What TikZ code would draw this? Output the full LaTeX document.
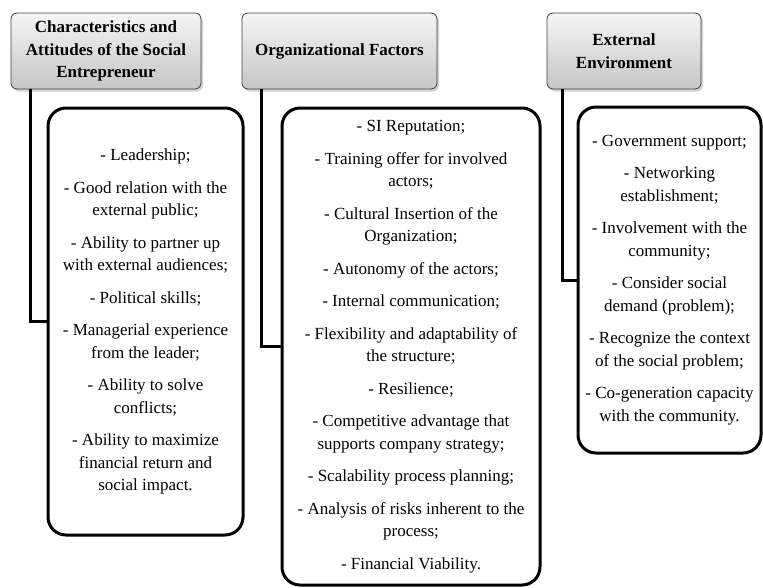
\documentclass[tikz,border=0pt]{standalone}
\usepackage{fontspec}
\setmainfont{Liberation Serif}
\usetikzlibrary{shadows}
\begin{document}
\begin{tikzpicture}[x=1pt,y=-1pt,
  head/.style={draw=black!75, line width=0.8pt, rounded corners=6pt, top color=gray!8, bottom color=gray!45,
    drop shadow={shadow xshift=2pt, shadow yshift=-2.5pt, opacity=0.35}, align=center, inner sep=0pt,
    font=\fontsize{17}{22.5}\selectfont\bfseries},
  list/.style={draw, line width=3pt, rounded corners=18pt, align=center, inner sep=0pt,
    font=\fontsize{17}{22.5}\selectfont},
  link/.style={draw, line width=3pt}]
\useasboundingbox (0,0) rectangle (763,587);
\node[head, minimum width=190pt, minimum height=76pt] (h1) at (106,51) {Characteristics and\\Attitudes of the Social\\Entrepreneur};
\node[head, minimum width=195pt, minimum height=76pt] (h2) at (339.5,51) {Organizational Factors};
\node[head, minimum width=154pt, minimum height=76pt] (h3) at (624,51) {External\\Environment};
\node[list, minimum width=195pt, minimum height=427pt] (b1) at (145.5,321.5) {- Leadership;\\[10pt]
  - Good relation with the\\external public;\\[10pt]
  - Ability to partner up\\with external audiences;\\[10pt]
  - Political skills;\\[10pt]
  - Managerial experience\\from the leader;\\[10pt]
  - Ability to solve\\conflicts;\\[10pt]
  - Ability to maximize\\financial return and\\social impact.};
\node[list, minimum width=258pt, minimum height=477pt] (b2) at (411,346.5) {- SI Reputation;\\[10pt]
  - Training offer for involved\\actors;\\[10pt]
  - Cultural Insertion of the\\Organization;\\[10pt]
  - Autonomy of the actors;\\[10pt]
  - Internal communication;\\[10pt]
  - Flexibility and adaptability of\\the structure;\\[10pt]
  - Resilience;\\[10pt]
  - Competitive advantage that\\supports company strategy;\\[10pt]
  - Scalability process planning;\\[10pt]
  - Analysis of risks inherent to the\\process;\\[10pt]
  - Financial Viability.};
\node[list, minimum width=183pt, minimum height=346pt] (b3) at (669.5,280) {- Government support;\\[10pt]
  - Networking\\establishment;\\[10pt]
  - Involvement with the\\community;\\[10pt]
  - Consider social\\demand (problem);\\[10pt]
  - Recognize the context\\of the social problem;\\[10pt]
  - Co-generation capacity\\with the community.};
\draw[link] ([xshift=20pt]h1.south west) |- (b1.west);
\draw[link] ([xshift=20pt]h2.south west) |- (b2.west);
\draw[link] ([xshift=16pt]h3.south west) |- (b3.west);
\end{tikzpicture}
\end{document}
